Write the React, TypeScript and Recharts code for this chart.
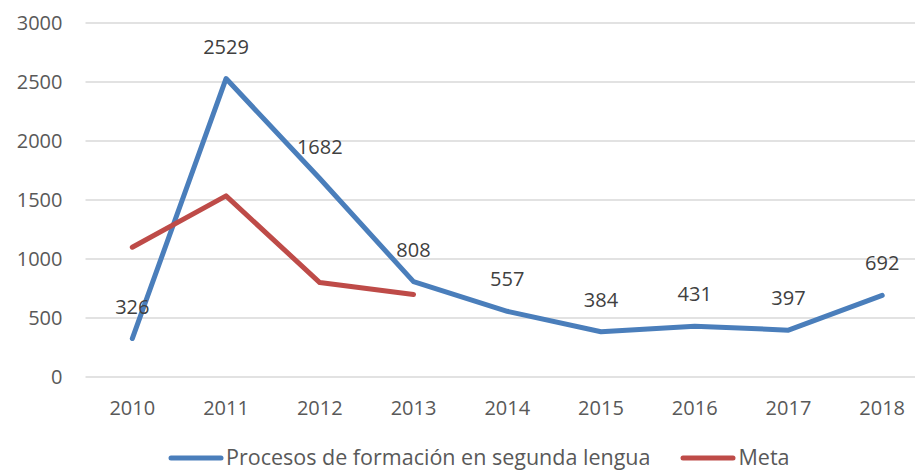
import React from 'react';
import { LineChart, Line, XAxis, YAxis, CartesianGrid, Legend, LabelList } from 'recharts';

const years = ['2010', '2011', '2012', '2013', '2014', '2015', '2016', '2017', '2018'];
const procesos = [326, 2529, 1682, 808, 557, 384, 431, 397, 692];
const meta: (number | null)[] = [1100, 1535, 800, 700, null, null, null, null, null];
const yTicks = [0, 500, 1000, 1500, 2000, 2500, 3000];

const data = years.map((year, i) => ({ year, procesos: procesos[i], meta: meta[i] }));

const FONT = '"Open Sans", sans-serif';
const BLUE = '#4A7EBB';
const RED = '#BE4B48';

const LegendIcon = ({ color }: { color: string }) => (
  <svg width={58} height={10} style={{ position: 'relative', top: 2 }}>
    <line x1={3} y1={5} x2={53} y2={5} stroke={color} strokeWidth={5} strokeLinecap="round" />
  </svg>
);

const renderLegend = () => (
  <div style={{ display: 'flex', height: 24, alignItems: 'center', fontFamily: FONT, fontSize: 21.5, color: '#595959', paddingLeft: 168 }}>
    <LegendIcon color={BLUE} />
    <span style={{ marginRight: 30 }}>Procesos de formación en segunda lengua</span>
    <LegendIcon color={RED} />
    <span>Meta</span>
  </div>
);

export default function App() {
  return (
    <div style={{ position: 'absolute', left: 0, top: 0, width: 915, height: 471, overflow: 'hidden', background: '#fff' }}>
      <LineChart width={930} height={471} data={data} margin={{ top: 23, right: 1, left: 0, bottom: 30 }}>
        <CartesianGrid vertical={false} stroke="#D9D9D9" strokeWidth={1.5} />
        <XAxis
          dataKey="year"
          axisLine={false}
          tickLine={false}
          height={40}
          tickMargin={18}
          padding={{ left: 46.8, right: 46.8 }}
          tick={{ fill: '#595959', fontSize: 20, fontFamily: FONT }}
          interval={0}
        />
        <YAxis
          width={85.5}
          domain={[0, 3000]}
          ticks={yTicks}
          axisLine={false}
          tickLine={false}
          tickMargin={17}
          tick={{ fill: '#595959', fontSize: 20, fontFamily: FONT }}
        />
        <Legend content={renderLegend} verticalAlign="bottom" wrapperStyle={{ top: 444, bottom: 'auto', left: 0, width: 930 }} />
        <Line
          dataKey="procesos"
          name="Procesos de formación en segunda lengua"
          stroke={BLUE}
          strokeWidth={5}
          strokeLinecap="round"
          strokeLinejoin="round"
          dot={false}
          activeDot={false}
          isAnimationActive={false}
        >
          <LabelList dataKey="procesos" position="top" offset={25} fill="#404040" fontSize={20} fontFamily={FONT} />
        </Line>
        <Line
          dataKey="meta"
          name="Meta"
          stroke={RED}
          strokeWidth={5}
          strokeLinecap="round"
          strokeLinejoin="round"
          dot={false}
          activeDot={false}
          connectNulls={false}
          isAnimationActive={false}
        />
      </LineChart>
    </div>
  );
}
